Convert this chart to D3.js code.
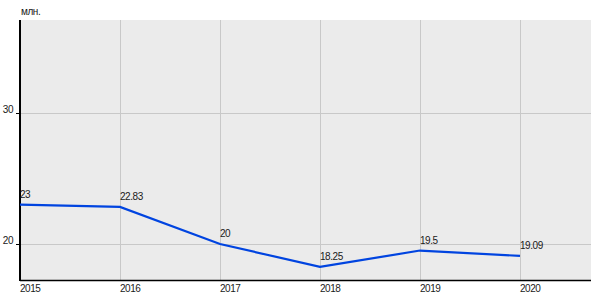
<!DOCTYPE html>
<html><head><meta charset="utf-8">
<script src="https://cdn.jsdelivr.net/npm/d3@7"></script>
<style>body{margin:0;background:#fff}svg{display:block}text{font-family:Arial,"Liberation Sans",sans-serif;font-size:10px;letter-spacing:-0.45px;fill:#1a1a1a}</style>
</head><body><svg id="c" width="600" height="300"></svg>
<script>
const years = [2015, 2016, 2017, 2018, 2019, 2020];
const values = [23, 22.83, 20, 18.25, 19.5, 19.09];
const valueLabels = ["23", "22.83", "20", "18.25", "19.5", "19.09"];
const yTicks = [20, 30];
const unitLabel = "млн.";

const svg = d3.select("#c");
const L = 20, R = 591, T = 20, B = 280;
const x = d3.scaleLinear().domain([2015, 2020.71]).range([L, R]);
const y = d3.scaleLinear().domain([17.25, 37.1]).range([B, T]);

svg.append("rect").attr("x", L).attr("y", T).attr("width", R - L).attr("height", B - T).attr("fill", "#ebebeb");

// gridlines
svg.append("g").selectAll("line").data(years).join("line")
  .attr("x1", d => Math.round(x(d)) + 0.5).attr("x2", d => Math.round(x(d)) + 0.5)
  .attr("y1", T).attr("y2", B).attr("stroke", "#c8c8c8");
svg.append("g").selectAll("line").data(yTicks).join("line")
  .attr("y1", d => Math.round(y(d)) + 0.5).attr("y2", d => Math.round(y(d)) + 0.5)
  .attr("x1", L).attr("x2", R).attr("stroke", "#c8c8c8");
// tick marks on y
svg.append("g").selectAll("line").data(yTicks).join("line")
  .attr("y1", d => Math.round(y(d)) + 0.5).attr("y2", d => Math.round(y(d)) + 0.5)
  .attr("x1", L - 4).attr("x2", L).attr("stroke", "#000");

// axes lines
svg.append("line").attr("x1", L).attr("x2", L).attr("y1", T).attr("y2", B + 1).attr("stroke", "#000").attr("stroke-width", 2);
svg.append("line").attr("x1", L).attr("x2", R).attr("y1", B + 0.5).attr("y2", B + 0.5).attr("stroke", "#000").attr("stroke-width", 1.5);

// y labels
svg.append("g").selectAll("text").data(yTicks).join("text")
  .attr("x", L - 7).attr("y", d => y(d)).attr("text-anchor", "end").text(d => d);
// x labels
svg.append("g").selectAll("text").data(years).join("text")
  .attr("x", d => x(d)).attr("y", 292).text(d => d);

svg.append("text").attr("x", 21).attr("y", 15).text(unitLabel);

// line
const pts = years.map((d, i) => [d, values[i]]);
svg.append("path").datum(pts)
  .attr("d", d3.line().x(d => x(d[0])).y(d => y(d[1])))
  .attr("fill", "none").attr("stroke", "#0044e0").attr("stroke-width", 2.2);

svg.append("g").selectAll("text").data(pts).join("text")
  .attr("x", d => x(d[0])).attr("y", d => y(d[1]) - 7).text((d, i) => valueLabels[i]);
</script></body></html>
